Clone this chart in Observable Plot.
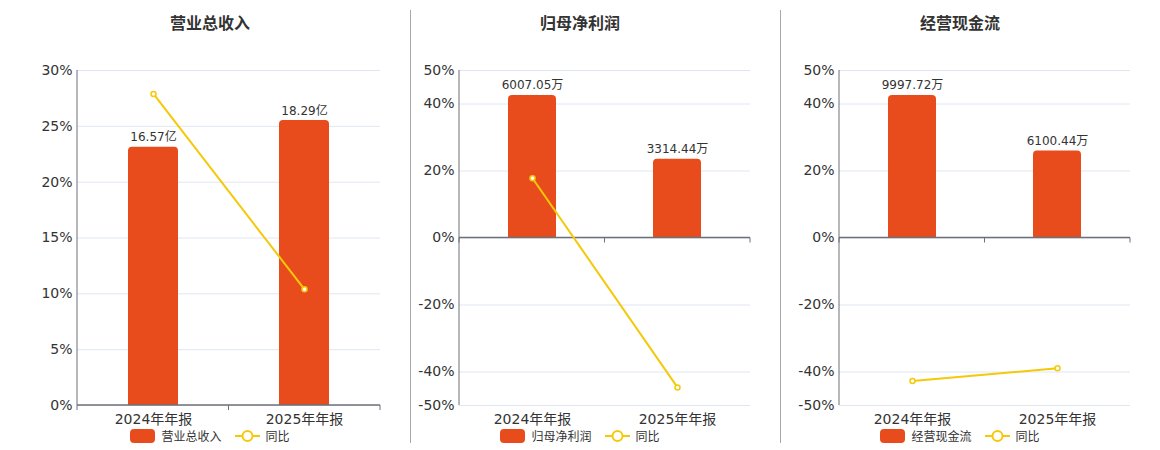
<!DOCTYPE html>
<html><head><meta charset="utf-8">
<script src="https://cdn.jsdelivr.net/npm/d3@7"></script>
<script src="https://cdn.jsdelivr.net/npm/@observablehq/plot@0.6"></script>
<style>
body{margin:0;background:#fff;font-family:"DejaVu Sans","Noto Sans CJK SC",sans-serif;}
#root{position:relative;width:1160px;height:450px;overflow:hidden;}
.sep{position:absolute;top:10px;height:433px;width:1px;background:#a8a8a8;}
.title{position:absolute;top:12px;width:200px;text-align:center;font-size:16px;font-weight:bold;color:#333;line-height:20px;font-family:"Noto Sans CJK SC","DejaVu Sans",sans-serif;}
.plot{position:absolute;top:40px;}
.legend{position:absolute;top:428px;width:240px;display:flex;justify-content:center;align-items:center;font-size:12px;color:#333;line-height:16px;font-family:"Noto Sans CJK SC","DejaVu Sans",sans-serif;}
.legend svg{display:block;}
.legend .n1{margin:0 13px 0 6px;}
.legend .n2{margin:0 0 0 6px;}
</style></head>
<body><div id="root"></div>
<script>
const categories = ["2024年年报", "2025年年报"];
const titles = ["营业总收入", "归母净利润", "经营现金流"];
const revenueValues = [16.57, 18.29];
const revenueLabels = ["16.57亿", "18.29亿"];
const revenueYoY = [27.9, 10.4];
const profitValues = [6007.05, 3314.44];
const profitLabels = ["6007.05万", "3314.44万"];
const profitYoY = [17.85, -44.6];
const cashValues = [9997.72, 6100.44];
const cashLabels = ["9997.72万", "6100.44万"];
const cashYoY = [-42.7, -38.9];
const revenueTicks = [0, 5, 10, 15, 20, 25, 30];
const signedTicks = [-50, -40, -20, 0, 20, 40, 50];
const yoyName = "同比";

const BAR = "#e84c1c", LINE = "#f5c908", AXIS = "#6e7079", GRID = "#e0e6f1";

const panels = [
  {title: titles[0], values: revenueValues, labels: revenueLabels, yoy: revenueYoY, ticks: revenueTicks,
   domain: [0, 30], barMax: 21.5, left: 0, width: 410, ml: 77, center: 210},
  {title: titles[1], values: profitValues, labels: profitLabels, yoy: profitYoY, ticks: signedTicks,
   domain: [-50, 50], barMax: 7060, left: 411, width: 369, ml: 48, center: 580},
  {title: titles[2], values: cashValues, labels: cashLabels, yoy: cashYoY, ticks: signedTicks,
   domain: [-50, 50], barMax: 11750, left: 781, width: 379, ml: 58, center: 960}
];

const root = document.getElementById("root");
[410, 780].forEach(x => {
  const s = document.createElement("div"); s.className = "sep"; s.style.left = x + "px"; root.appendChild(s);
});

function frameMark(index, scales, values, dims) {
  const g = d3.create("svg:g");
  const {width, height, marginLeft: ml, marginRight: mr, marginTop: mt, marginBottom: mb} = dims;
  const y0 = scales.y(0);
  g.append("line").attr("x1", ml).attr("x2", ml).attr("y1", mt).attr("y2", height - mb)
    .attr("stroke", AXIS).attr("stroke-width", 1);
  g.append("line").attr("x1", ml).attr("x2", width - mr).attr("y1", y0).attr("y2", y0)
    .attr("stroke", AXIS).attr("stroke-width", 1.6);
  const n = categories.length, step = (width - ml - mr) / n;
  for (let i = 0; i <= n; i++) {
    g.append("line").attr("x1", ml + i * step).attr("x2", ml + i * step)
      .attr("y1", y0).attr("y2", y0 + 5).attr("stroke", AXIS).attr("stroke-width", 1);
  }
  return g.node();
}

panels.forEach(p => {
  const yMax = p.domain[1];
  const rows = categories.map((c, i) => ({
    cat: c, bar: p.values[i] / p.barMax * yMax, label: p.labels[i], yoy: p.yoy[i]
  }));
  const chart = Plot.plot({
    width: p.width, height: 395,
    marginLeft: p.ml, marginRight: 30, marginTop: 30, marginBottom: 30,
    style: {fontFamily: '"DejaVu Sans","Noto Sans CJK SC",sans-serif', fontSize: "14px", color: "#333", background: "transparent", overflow: "visible"},
    x: {type: "band", domain: categories, paddingInner: 0.67, paddingOuter: 0.335, align: 0.5},
    y: {domain: p.domain},
    marks: [
      Plot.gridY(p.ticks, {stroke: GRID, strokeOpacity: 1, strokeWidth: 1}),
      Plot.barY(rows, {x: "cat", y: "bar", fill: BAR, ry1: 4}),
      frameMark,
      Plot.line(rows, {x: "cat", y: "yoy", stroke: LINE, strokeWidth: 2}),
      Plot.dot(rows, {x: "cat", y: "yoy", r: 2.5, fill: "#fff", stroke: LINE, strokeWidth: 1.5}),
      Plot.text(rows, {x: "cat", y: "bar", text: "label", dy: -6, lineAnchor: "bottom", fontSize: 12, fill: "#333"}),
      Plot.axisY({ticks: p.ticks, tickSize: 0, tickPadding: 5, tickFormat: d => d + "%", label: null, fontSize: 14, fill: "#333"}),
      Plot.axisX({tickSize: 0, tickPadding: 9, label: null, fontSize: 14, fill: "#333"})
    ]
  });
  const holder = document.createElement("div");
  holder.className = "plot"; holder.style.left = p.left + "px";
  holder.appendChild(chart); root.appendChild(holder);

  const t = document.createElement("div");
  t.className = "title"; t.style.left = (p.center - 100) + "px"; t.textContent = p.title;
  root.appendChild(t);

  const lg = document.createElement("div");
  lg.className = "legend"; lg.style.left = (p.center - 120) + "px";
  lg.innerHTML =
    `<svg width="25" height="14"><rect x="0" y="0" width="25" height="14" rx="4" fill="${BAR}"/></svg>` +
    `<span class="n1">${p.title}</span>` +
    `<svg width="25" height="14"><line x1="0" x2="25" y1="7" y2="7" stroke="${LINE}" stroke-width="2"/><circle cx="12.5" cy="7" r="5" fill="#fff" stroke="${LINE}" stroke-width="2"/></svg>` +
    `<span class="n2">${yoyName}</span>`;
  root.appendChild(lg);
});
</script></body></html>
